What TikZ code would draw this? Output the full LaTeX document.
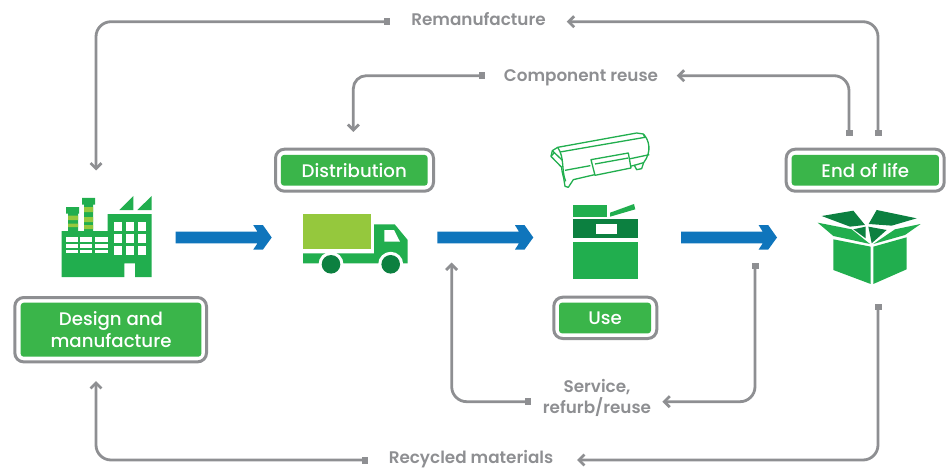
\documentclass[tikz,border=0pt]{standalone}
\usepackage{fontspec}
\setmainfont{Poppins}[UprightFont=* Medium,BoldFont=* SemiBold]
\usetikzlibrary{arrows.meta}
\definecolor{lblgreen}{HTML}{3AB54A}
\definecolor{icongreen}{HTML}{21AE4E}
\definecolor{darkgreen}{HTML}{0C8040}
\definecolor{lightgreen}{HTML}{95C83D}
\definecolor{flowblue}{HTML}{0F75BC}
\definecolor{loopgray}{HTML}{8E8F92}
\tikzset{
  stagebox/.style={draw=loopgray,line width=3pt,rounded corners=9pt,fill=white,inner sep=0pt},
  stagefill/.style={fill=lblgreen,rounded corners=3pt,text=white,font=\fontsize{18.2}{22}\selectfont,align=center,inner sep=0pt,minimum height=30.7pt},
  looplabel/.style={text=loopgray,font=\fontsize{16.8}{21}\selectfont\bfseries,align=center,inner sep=0pt},
  loop/.style={draw=loopgray,line width=2.8pt,rounded corners=15pt,{Square[length=6pt,width=7pt]}-{Straight Barb[length=5.5pt,width=11pt,line width=2.8pt]}},
  flow/.style={fill=flowblue},
  toner/.style={draw=icongreen,line width=1.3pt,line join=round,fill=white}
}
\begin{document}
\begin{tikzpicture}[x=1pt,y=-1pt]
\useasboundingbox (0,0) rectangle (951,468);
% stage boxes
\draw[stagebox] (14.8,297.5) rectangle (206.5,361.9);
\node[stagefill,minimum width=180.6pt,minimum height=54pt] (design) at (111,329.7) {Design and\\manufacture};
\draw[stagebox] (275.5,149.2) rectangle (433.5,191.2);
\node[stagefill,minimum width=146.7pt] (distribution) at (354.3,170.3) {Distribution};
\draw[stagebox] (553.8,297.2) rectangle (656.8,338.5);
\node[stagefill,minimum width=92pt] (use) at (605,318) {Use};
\draw[stagebox] (786.2,149.2) rectangle (944.2,191.2);
\node[stagefill,minimum width=147.3pt] (eol) at (865.3,170.3) {End of life};
% flow arrows
\fill[flow] (175.7,231.7)--(257.5,231.7)--(253.3,225.2)--(263,225.2)--(271.7,237.5)--(263,249.5)--(253.3,249.5)--(257.5,243.3)--(175.7,243.3)--cycle;
\fill[flow] (437.3,231.7)--(519,231.7)--(515,225.2)--(524.6,225.2)--(533.3,237.5)--(524.6,249.5)--(515,249.5)--(519,243.3)--(437.3,243.3)--cycle;
\fill[flow] (681,231.7)--(762.7,231.7)--(758.7,225.2)--(768.3,225.2)--(777,237.5)--(768.3,249.5)--(758.7,249.5)--(762.7,243.3)--(681,243.3)--cycle;
% loop labels
\node[looplabel] (reman) at (478.5,19.5) {Remanufacture};
\node[looplabel] (comp) at (581,78) {Component reuse};
\node[looplabel] (service) at (597,397.5) {Service,\\refurb/reuse};
\node[looplabel] (recycled) at (471,459.5) {Recycled materials};
% loop ends
\coordinate (a1) at (878,136); \coordinate (a2) at (566.7,21.7);
\coordinate (a3) at (389.5,21.7); \coordinate (a4) at (96,170.5);
\coordinate (b1) at (849,136); \coordinate (b2) at (676.7,75.7);
\coordinate (b3) at (484.5,75.7); \coordinate (b4) at (353.3,132);
\coordinate (c1) at (755,263); \coordinate (c2) at (662.3,401.7);
\coordinate (c3) at (531,401.7); \coordinate (c4) at (451.7,262.5);
\coordinate (d1) at (878,304); \coordinate (d2) at (577,460);
\coordinate (d3) at (368,460); \coordinate (d4) at (96,381);
\draw[loop] (a1) |- (a2);
\draw[loop] (a3) -| (a4);
\draw[loop] (b1) |- (b2);
\draw[loop,rounded corners=13pt] (b3) -| (b4);
\draw[loop] (c1) |- (c2);
\draw[loop] (c3) -| (c4);
\draw[loop] (d1) |- (d2);
\draw[loop] (d3) -| (d4);
% factory
\fill[icongreen,even odd rule] (61.7,277)--(61.7,231)--(107.7,231)--(107.7,214)--(151.7,214)--(151.7,277)--(135,277)--(135,263.3)--(124.3,263.3)--(124.3,277)--cycle;
\fill[icongreen] (119.3,210)--(133.3,196)--(133.3,210)--cycle (137.3,210)--(151.7,196)--(151.7,210)--cycle;
\fill[icongreen] (68,213)rectangle(78,231) (66,207)rectangle(79,213.5) (84,204)rectangle(93,231) (82,198)rectangle(95,204.5);
\fill[lightgreen] (68,215.5)rectangle(78,220) (68,223.5)rectangle(78,227) (84,207)rectangle(93,212) (84,217)rectangle(93,222) (84,225)rectangle(93,229);
\foreach \wx in {114,126,138}\foreach \wy in {222.3,234.3,246.3}\fill[white] (\wx,\wy) rectangle ++(8.3,8.4);
\foreach \sx/\sw in {65.7/12.6,80/12.3,95/12.7}{
  \fill[white] (\sx,237.3) rectangle ++(\sw,4.4);
  \fill[white] (\sx,244) rectangle ++(\sw,3.7);
  \fill[white] (\sx,250) rectangle ++(\sw,3.3);}
% truck
\fill[lightgreen] (303,214) rectangle (370.7,249.3);
\fill[icongreen] (374,224.3)--(394.7,224.3)--(407.7,240)--(407.7,263.3)--(303,263.3)--(303,253.3)--(374,253.3)--cycle;
\fill[white] (384.3,230)--(394,230)--(400,241.7)--(384.3,241.7)--cycle;
\foreach \wx in {331,390.7}{\fill[white] (\wx,264.3) circle (12.5);\fill[darkgreen] (\wx,264.3) circle (9.3);}
% toner cartridge
\begin{scope}[shift={(545,128)},x=0.3333pt,y=-0.3333pt]
\draw[toner] (38,58)--(275,15)--(295,18) .. controls (312,35) and (322,70) .. (296,104)--(290,122)--(275,125)--(268,112)--(85,155)--(70,178)--(60,175)--(56,150) .. controls (52,135) and (50,125) .. (50,118)--(18,85)--(22,68)--cycle;
\draw[toner,fill=none] (38,58) .. controls (60,90) and (48,125) .. (62,160);
\draw[toner,fill=none] (45,72)--(300,28)--(295,18);
\draw[toner,fill=none] (60,127)--(136,113) (252,93)--(313,80);
\draw[toner,fill=none] (296,104)--(268,112);
\draw[toner,fill=none] (22,68)--(52,97) (18,85)--(26,76);
\draw[toner] (138,95)--(250,75)--(258,120)--(150,142)--cycle;
\draw[toner,fill=none] (150,108)--(250,90);
\end{scope}
% printer
\fill[icongreen] (572.7,205.3) rectangle (606.7,216.7);
\fill[icongreen] (610,212.7)--(634,204)--(635.3,209.3)--(610,216.7)--cycle;
\fill[darkgreen] (572.7,219.3) rectangle (637.7,238.3);
\fill[white] (596.3,224) rectangle (617.3,234.3);
\fill[icongreen] (572.7,241.7) rectangle (637.7,279.3);
% box
\begin{scope}[shift={(770,130)},x=0.3333pt,y=-0.3333pt]
\fill[icongreen] (190,328)--(302,350)--(302,462)--(190,420)--cycle;
\fill[icongreen] (310,350)--(410,322)--(410,418)--(310,462)--cycle;
\fill[icongreen] (143,278)--(245,298)--(300,342)--(190,318)--cycle;
\fill[icongreen] (310,342)--(375,298)--(452,282)--(405,315)--cycle;
\fill[darkgreen] (155,258)--(250,242)--(285,285)--(240,290)--cycle;
\fill[darkgreen] (320,240)--(440,265)--(365,287)--(296,282)--cycle;
\fill[darkgreen] (250,298)--(287,290)--(287,325)--cycle;
\fill[darkgreen] (295,290)--(350,300)--(305,340)--cycle;
\end{scope}
\end{tikzpicture}
\end{document}
